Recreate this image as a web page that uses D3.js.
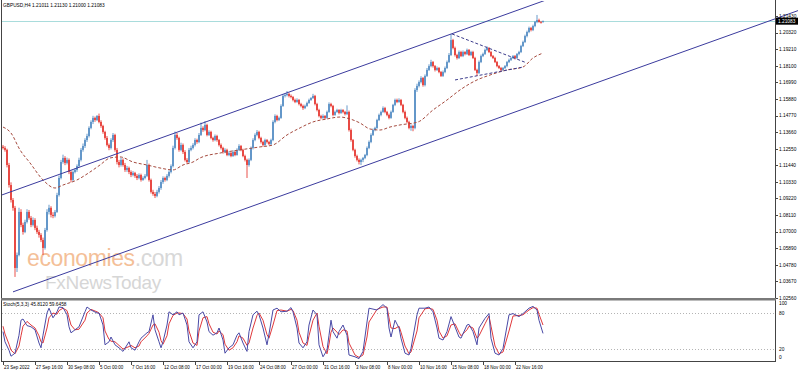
<!DOCTYPE html>
<html>
<head>
<meta charset="utf-8">
<script src="https://cdn.jsdelivr.net/npm/d3@7"></script>
<style>
  body { margin: 0; background: #fff; }
  svg { display: block; }
  text { font-family: "Liberation Sans", Arial, sans-serif; }
</style>
</head>
<body>
<svg id="chart" width="798" height="372"></svg>
<script>
// GBPUSD H4 candles: [open, high, low, close], one per bar from 23 Sep 2022 00:00
const candles = [
  [1.1268,1.1280,1.1250,1.1260],[1.1260,1.1272,1.1235,1.1247],[1.1247,1.1255,1.1130,1.1146],[1.1146,1.1160,1.0995,1.1012],
  [1.1012,1.1030,1.0895,1.0912],[1.0912,1.0925,1.0840,1.0859],[1.0859,1.0872,1.0397,1.0457],[1.0457,1.0560,1.0430,1.0544],
  [1.0544,1.0860,1.0535,1.0832],[1.0832,1.0850,1.0730,1.0745],[1.0745,1.0760,1.0680,1.0698],[1.0698,1.0780,1.0690,1.0765],
  [1.0765,1.0850,1.0755,1.0832],[1.0832,1.0845,1.0780,1.0792],[1.0792,1.0805,1.0730,1.0745],[1.0745,1.0795,1.0735,1.0778],
  [1.0778,1.0790,1.0710,1.0725],[1.0725,1.0740,1.0685,1.0698],[1.0698,1.0712,1.0660,1.0678],[1.0678,1.0690,1.0630,1.0644],
  [1.0644,1.0660,1.0544,1.0591],[1.0591,1.0725,1.0580,1.0711],[1.0711,1.0850,1.0700,1.0832],[1.0832,1.0880,1.0815,1.0859],
  [1.0859,1.0870,1.0795,1.0812],[1.0812,1.0830,1.0790,1.0805],[1.0805,1.0845,1.0795,1.0832],[1.0832,1.0960,1.0825,1.0945],
  [1.0945,1.1075,1.0935,1.1059],[1.1059,1.1180,1.1050,1.1166],[1.1166,1.1215,1.1155,1.1193],[1.1193,1.1205,1.1145,1.1160],
  [1.1160,1.1195,1.1150,1.1180],[1.1180,1.1190,1.1085,1.1099],[1.1099,1.1110,1.1030,1.1046],[1.1046,1.1110,1.1035,1.1099],
  [1.1099,1.1125,1.1090,1.1113],[1.1113,1.1150,1.1100,1.1139],[1.1139,1.1195,1.1130,1.1180],[1.1180,1.1260,1.1170,1.1247],
  [1.1247,1.1290,1.1235,1.1273],[1.1273,1.1325,1.1260,1.1313],[1.1313,1.1355,1.1300,1.1340],[1.1340,1.1405,1.1330,1.1394],
  [1.1394,1.1445,1.1385,1.1434],[1.1434,1.1475,1.1420,1.1461],[1.1461,1.1470,1.1435,1.1447],[1.1447,1.1480,1.1440,1.1474],
  [1.1474,1.1490,1.1425,1.1434],[1.1434,1.1445,1.1395,1.1407],[1.1407,1.1415,1.1355,1.1367],[1.1367,1.1375,1.1315,1.1327],
  [1.1327,1.1340,1.1270,1.1280],[1.1280,1.1290,1.1245,1.1260],[1.1260,1.1325,1.1250,1.1313],[1.1313,1.1360,1.1300,1.1347],
  [1.1347,1.1355,1.1235,1.1247],[1.1247,1.1260,1.1150,1.1166],[1.1166,1.1180,1.1130,1.1146],[1.1146,1.1195,1.1135,1.1180],
  [1.1180,1.1190,1.1135,1.1146],[1.1146,1.1160,1.1100,1.1113],[1.1113,1.1140,1.1100,1.1126],[1.1126,1.1135,1.1085,1.1099],
  [1.1099,1.1110,1.1065,1.1079],[1.1079,1.1105,1.1070,1.1093],[1.1093,1.1100,1.1060,1.1073],[1.1073,1.1085,1.1045,1.1059],
  [1.1059,1.1090,1.1050,1.1079],[1.1079,1.1088,1.1035,1.1046],[1.1046,1.1070,1.1040,1.1059],[1.1059,1.1085,1.1050,1.1073],
  [1.1073,1.1180,1.1065,1.1146],[1.1146,1.1155,1.1035,1.1046],[1.1046,1.1055,1.0955,1.0966],[1.0966,1.0980,1.0940,1.0952],
  [1.0952,1.0965,1.0925,1.0939],[1.0939,1.0980,1.0930,1.0966],[1.0966,1.1005,1.0955,1.0992],[1.0992,1.1045,1.0980,1.1032],
  [1.1032,1.1070,1.1020,1.1059],[1.1059,1.1068,1.1035,1.1046],[1.1046,1.1085,1.1038,1.1073],[1.1073,1.1110,1.1062,1.1099],
  [1.1099,1.1150,1.1090,1.1139],[1.1139,1.1275,1.1130,1.1260],[1.1260,1.1370,1.1250,1.1347],[1.1347,1.1360,1.1315,1.1327],
  [1.1327,1.1335,1.1235,1.1247],[1.1247,1.1295,1.1238,1.1280],[1.1280,1.1290,1.1220,1.1233],[1.1233,1.1245,1.1170,1.1180],
  [1.1180,1.1192,1.1155,1.1166],[1.1166,1.1260,1.1160,1.1247],[1.1247,1.1275,1.1238,1.1260],[1.1260,1.1292,1.1250,1.1280],
  [1.1280,1.1325,1.1270,1.1313],[1.1313,1.1322,1.1288,1.1300],[1.1300,1.1360,1.1292,1.1347],[1.1347,1.1430,1.1340,1.1394],
  [1.1394,1.1405,1.1368,1.1380],[1.1380,1.1440,1.1372,1.1414],[1.1414,1.1422,1.1338,1.1347],[1.1347,1.1378,1.1340,1.1367],
  [1.1367,1.1375,1.1318,1.1327],[1.1327,1.1335,1.1302,1.1313],[1.1313,1.1350,1.1305,1.1340],[1.1340,1.1348,1.1302,1.1313],
  [1.1313,1.1320,1.1270,1.1280],[1.1280,1.1290,1.1250,1.1260],[1.1260,1.1268,1.1222,1.1233],[1.1233,1.1258,1.1225,1.1247],
  [1.1247,1.1255,1.1205,1.1213],[1.1213,1.1238,1.1205,1.1226],[1.1226,1.1235,1.1198,1.1206],[1.1206,1.1245,1.1200,1.1233],
  [1.1233,1.1240,1.1205,1.1213],[1.1213,1.1258,1.1208,1.1247],[1.1247,1.1285,1.1240,1.1273],[1.1273,1.1280,1.1238,1.1247],
  [1.1247,1.1255,1.1198,1.1206],[1.1206,1.1215,1.1170,1.1180],[1.1180,1.1188,1.1059,1.1146],[1.1146,1.1190,1.1135,1.1180],
  [1.1180,1.1270,1.1172,1.1260],[1.1260,1.1325,1.1250,1.1313],[1.1313,1.1358,1.1305,1.1347],[1.1347,1.1380,1.1338,1.1367],
  [1.1367,1.1375,1.1318,1.1327],[1.1327,1.1335,1.1290,1.1300],[1.1300,1.1308,1.1268,1.1280],[1.1280,1.1322,1.1272,1.1313],
  [1.1313,1.1320,1.1290,1.1300],[1.1300,1.1308,1.1278,1.1287],[1.1287,1.1322,1.1280,1.1313],[1.1313,1.1445,1.1305,1.1434],
  [1.1434,1.1485,1.1425,1.1474],[1.1474,1.1482,1.1438,1.1447],[1.1447,1.1470,1.1440,1.1461],[1.1461,1.1552,1.1455,1.1541],
  [1.1541,1.1620,1.1535,1.1608],[1.1608,1.1625,1.1598,1.1614],[1.1614,1.1641,1.1605,1.1621],[1.1621,1.1630,1.1598,1.1608],
  [1.1608,1.1618,1.1592,1.1601],[1.1601,1.1608,1.1572,1.1581],[1.1581,1.1590,1.1560,1.1568],[1.1568,1.1592,1.1562,1.1581],
  [1.1581,1.1588,1.1545,1.1554],[1.1554,1.1562,1.1532,1.1541],[1.1541,1.1550,1.1515,1.1527],[1.1527,1.1550,1.1520,1.1541],
  [1.1541,1.1570,1.1535,1.1561],[1.1561,1.1590,1.1555,1.1581],[1.1581,1.1600,1.1575,1.1594],[1.1594,1.1622,1.1588,1.1608],
  [1.1608,1.1615,1.1545,1.1554],[1.1554,1.1562,1.1505,1.1514],[1.1514,1.1522,1.1465,1.1474],[1.1474,1.1482,1.1452,1.1461],
  [1.1461,1.1485,1.1455,1.1474],[1.1474,1.1480,1.1450,1.1461],[1.1461,1.1510,1.1455,1.1501],[1.1501,1.1565,1.1495,1.1554],
  [1.1554,1.1562,1.1532,1.1541],[1.1541,1.1548,1.1472,1.1481],[1.1481,1.1510,1.1475,1.1501],[1.1501,1.1522,1.1495,1.1514],
  [1.1514,1.1520,1.1485,1.1494],[1.1494,1.1522,1.1488,1.1514],[1.1514,1.1520,1.1492,1.1501],[1.1501,1.1508,1.1478,1.1487],
  [1.1487,1.1545,1.1480,1.1501],[1.1501,1.1510,1.1370,1.1380],[1.1380,1.1390,1.1302,1.1313],[1.1313,1.1320,1.1238,1.1247],
  [1.1247,1.1255,1.1195,1.1206],[1.1206,1.1215,1.1170,1.1180],[1.1180,1.1190,1.1150,1.1166],[1.1166,1.1188,1.1146,1.1180],
  [1.1180,1.1200,1.1165,1.1193],[1.1193,1.1220,1.1185,1.1213],[1.1213,1.1270,1.1205,1.1260],[1.1260,1.1310,1.1252,1.1300],
  [1.1300,1.1358,1.1292,1.1347],[1.1347,1.1390,1.1340,1.1380],[1.1380,1.1402,1.1372,1.1394],[1.1394,1.1455,1.1388,1.1447],
  [1.1447,1.1490,1.1440,1.1481],[1.1481,1.1510,1.1472,1.1501],[1.1501,1.1538,1.1495,1.1527],[1.1527,1.1535,1.1492,1.1501],
  [1.1501,1.1508,1.1472,1.1481],[1.1481,1.1490,1.1452,1.1461],[1.1461,1.1510,1.1455,1.1501],[1.1501,1.1555,1.1495,1.1548],
  [1.1548,1.1590,1.1540,1.1581],[1.1581,1.1590,1.1560,1.1568],[1.1568,1.1592,1.1562,1.1581],[1.1581,1.1588,1.1540,1.1548],
  [1.1548,1.1555,1.1492,1.1501],[1.1501,1.1510,1.1452,1.1461],[1.1461,1.1470,1.1425,1.1434],[1.1434,1.1442,1.1385,1.1394],
  [1.1394,1.1418,1.1375,1.1407],[1.1407,1.1415,1.1372,1.1394],[1.1394,1.1660,1.1385,1.1648],[1.1648,1.1690,1.1635,1.1675],
  [1.1675,1.1712,1.1665,1.1701],[1.1701,1.1740,1.1692,1.1728],[1.1728,1.1735,1.1670,1.1681],[1.1681,1.1752,1.1672,1.1742],
  [1.1742,1.1795,1.1735,1.1782],[1.1782,1.1820,1.1775,1.1808],[1.1808,1.1850,1.1800,1.1835],[1.1835,1.1842,1.1798,1.1808],
  [1.1808,1.1815,1.1772,1.1782],[1.1782,1.1805,1.1775,1.1795],[1.1795,1.1802,1.1760,1.1768],[1.1768,1.1775,1.1735,1.1742],
  [1.1742,1.1778,1.1735,1.1768],[1.1768,1.1805,1.1760,1.1795],[1.1795,1.1845,1.1788,1.1835],[1.1835,1.1895,1.1828,1.1882],
  [1.1882,1.2023,1.1875,1.1982],[1.1982,1.1990,1.1920,1.1929],[1.1929,1.1938,1.1872,1.1882],[1.1882,1.1890,1.1852,1.1862],
  [1.1862,1.1912,1.1855,1.1902],[1.1902,1.1910,1.1868,1.1875],[1.1875,1.1912,1.1868,1.1902],[1.1902,1.1908,1.1880,1.1889],
  [1.1889,1.1925,1.1882,1.1916],[1.1916,1.1922,1.1875,1.1882],[1.1882,1.1910,1.1875,1.1902],[1.1902,1.1910,1.1855,1.1862],
  [1.1862,1.1870,1.1775,1.1782],[1.1782,1.1790,1.1742,1.1762],[1.1762,1.1845,1.1755,1.1835],[1.1835,1.1885,1.1828,1.1875],
  [1.1875,1.1898,1.1868,1.1889],[1.1889,1.1925,1.1882,1.1916],[1.1916,1.1940,1.1908,1.1929],[1.1929,1.1935,1.1895,1.1902],
  [1.1902,1.1910,1.1868,1.1875],[1.1875,1.1882,1.1855,1.1862],[1.1862,1.1870,1.1828,1.1835],[1.1835,1.1842,1.1800,1.1808],
  [1.1808,1.1815,1.1788,1.1795],[1.1795,1.1802,1.1772,1.1782],[1.1782,1.1802,1.1775,1.1795],[1.1795,1.1815,1.1788,1.1808],
  [1.1808,1.1842,1.1800,1.1835],[1.1835,1.1858,1.1828,1.1849],[1.1849,1.1870,1.1842,1.1862],[1.1862,1.1882,1.1855,1.1875],
  [1.1875,1.1882,1.1852,1.1862],[1.1862,1.1895,1.1855,1.1889],[1.1889,1.1910,1.1880,1.1902],[1.1902,1.1950,1.1895,1.1942],
  [1.1942,1.1978,1.1935,1.1969],[1.1969,1.2018,1.1962,1.2009],[1.2009,1.2045,1.2000,1.2036],[1.2036,1.2072,1.2028,1.2063],
  [1.2063,1.2070,1.2040,1.2049],[1.2049,1.2085,1.2042,1.2076],[1.2076,1.2110,1.2068,1.2103],[1.2103,1.2150,1.2095,1.2116],
  [1.2116,1.2125,1.2098,1.2103],[1.2103,1.2110,1.2092,1.2101],[1.2101,1.2113,1.2100,1.2108]
];

// Moving average (dashed), [bar, price]
const maLine = [
  [0,1.1400],[4,1.1360],[8.5,1.1247],[13.5,1.1160],[20,1.1046],[26,1.0992],[30,1.1012],[37,1.1046],
  [43.5,1.1099],[48.5,1.1146],[53.5,1.1193],[58.5,1.1200],[65,1.1166],[72,1.1146],[78.5,1.1126],[85,1.1113],
  [90,1.1146],[95,1.1166],[98.5,1.1193],[108.5,1.1226],[118.5,1.1247],[128.5,1.1267],[135,1.1280],[142,1.1347],
  [148.5,1.1394],[155,1.1434],[162,1.1454],[168.5,1.1467],[173.5,1.1454],[178.5,1.1427],[183.5,1.1387],[188.5,1.1380],
  [193.5,1.1400],[198.5,1.1414],[207.5,1.1434],[215,1.1514],[222,1.1581],[228.5,1.1648],[237,1.1715],[243.5,1.1748],
  [252,1.1782],[260,1.1802],[265,1.1862],[270,1.1895]
];

// Stochastic (5,3,3): main and signal, [bar, value]
const stochMain = [
  [0,49],[1,32],[3,18],[4,8],[6,13],[8,43],[9,68],[10,70],[12,59],[14,57],[16,52],[18,30],[19,22],[20,43],[22,80],[23,88],
  [25,72],[27,82],[28,90],[30,89],[32,77],[33,57],[34,47],[36,52],[38,57],[41,82],[42,90],[44,85],[47,80],[48,80],[50,60],
  [51,27],[53,32],[54,40],[56,27],[58,22],[60,16],[63,32],[64,22],[66,18],[68,32],[69,38],[72,47],[73,49],[75,77],[76,52],
  [78,32],[79,22],[80,32],[82,60],[83,82],[85,77],[87,82],[88,77],[90,80],[92,60],[93,32],[95,22],[97,32],[98,77],[100,82],
  [102,65],[103,49],[105,43],[107,47],[108,55],[110,35],[111,13],[113,22],[115,27],[117,43],[118,47],[120,30],[122,16],
  [123,49],[125,77],[127,83],[128,77],[130,55],[132,27],[133,45],[135,85],[137,88],[139,82],[142,83],[144,89],[145,82],
  [147,55],[148,30],[150,22],[152,32],[153,60],[155,85],[157,77],[158,27],[160,7],[162,18],[163,43],[164,68],[165,49],
  [167,38],[168,49],[170,60],[172,43],[173,10],[176,7],[178,4],[180,16],[182,65],[183,88],[187,85],[190,94],[192,88],
  [193,55],[194,40],[196,68],[198,55],[199,38],[201,13],[203,10],[204,21],[207,77],[208,88],[211,88],[213,90],[215,82],
  [217,55],[218,38],[220,35],[222,49],[224,74],[226,57],[228,40],[229,38],[232,60],[233,61],[235,49],[237,27],[238,55],
  [241,71],[243,79],[244,38],[246,13],[248,10],[250,21],[253,77],[255,79],[258,74],[260,79],[263,88],[265,91],[267,85],
  [268,68],[270,46]
];
const stochSignal = [
  [0,58],[1,45],[3,28],[4,18],[6,12],[8,25],[9,42],[10,58],[12,66],[14,60],[16,55],[18,42],[19,32],[20,30],[22,55],[23,72],
  [25,80],[27,78],[28,84],[30,88],[32,84],[33,72],[34,60],[36,52],[38,53],[41,68],[42,80],[44,86],[47,82],[48,80],[50,72],
  [51,50],[53,36],[54,33],[56,32],[58,26],[60,20],[63,24],[64,26],[66,22],[68,25],[69,32],[72,42],[73,46],[75,60],[76,62],
  [78,48],[79,34],[80,28],[82,42],[83,62],[85,76],[87,80],[88,80],[90,79],[92,70],[93,50],[95,30],[97,26],[98,50],[100,72],
  [102,74],[103,62],[105,48],[107,45],[108,50],[110,44],[111,28],[113,18],[115,22],[117,32],[118,42],[120,38],[122,26],
  [123,30],[125,55],[127,76],[128,80],[130,68],[132,44],[133,38],[135,60],[137,84],[139,85],[142,83],[144,86],[145,84],
  [147,68],[148,48],[150,30],[152,26],[153,42],[155,68],[157,80],[158,58],[160,24],[162,12],[163,28],[164,48],[165,55],
  [167,48],[168,44],[170,52],[172,50],[173,30],[176,10],[178,6],[180,10],[182,40],[183,65],[187,86],[190,90],[192,90],
  [193,72],[194,55],[196,54],[198,58],[199,48],[201,25],[203,12],[204,15],[207,50],[208,72],[211,87],[213,88],[215,86],
  [217,68],[218,50],[220,38],[222,42],[224,60],[226,62],[228,48],[229,42],[232,52],[233,58],[235,55],[237,38],[238,42],
  [241,62],[243,75],[244,58],[246,25],[248,12],[250,15],[253,50],[255,75],[258,76],[260,77],[263,85],[265,89],[267,88],
  [268,78],[270,60]
];

// Drawn objects: channel and triangle, [bar, price] end points
const channelUpper = [[-1.5, 1.0941], [271.5, 1.2250]];
const channelLower = [[5, 1.0297], [397.5, 1.2179]];
const triangleUpper = [[224.5, 1.2023], [261.5, 1.1831]];
const triangleLower = [[226, 1.1715], [259.5, 1.1800]];

const timeLabels = ["23 Sep 2022", "27 Sep 16:00", "30 Sep 08:00", "5 Oct 00:00", "7 Oct 16:00", "12 Oct 08:00",
  "17 Oct 00:00", "19 Oct 16:00", "24 Oct 08:00", "27 Oct 00:00", "31 Oct 16:00", "3 Nov 08:00", "8 Nov 00:00",
  "10 Nov 16:00", "15 Nov 08:00", "18 Nov 00:00", "22 Nov 16:00"];
const barsPerLabel = 16;
const priceTicks = [1.21430, 1.20320, 1.19210, 1.18100, 1.16990, 1.15880, 1.14770, 1.13660, 1.12550,
  1.11440, 1.10330, 1.09220, 1.08110, 1.07000, 1.05890, 1.04780, 1.03670, 1.02560];
const stochTicks = [100, 80, 20, 0];
const stochLevels = [80, 20];
const lastPrice = 1.21083;

const svg = d3.select("#chart");
const right = 775;
const main = { top: 1, bottom: 298 };
const sub = { top: 301, bottom: 361 };

// Scales
const x = d3.scaleLinear().domain([0, 386]).range([3, right]);
const y = d3.scaleLinear().domain([1.0256, 1.2143]).range([298, 16]);
const ys = d3.scaleLinear().domain([0, 100]).range([sub.bottom, sub.top]);

svg.append("defs").append("clipPath").attr("id", "mainClip")
  .append("rect").attr("x", 1).attr("y", main.top).attr("width", right - 1).attr("height", main.bottom - main.top);
svg.append("defs").append("clipPath").attr("id", "subClip")
  .append("rect").attr("x", 1).attr("y", sub.top).attr("width", right - 1).attr("height", sub.bottom - sub.top);

// Watermark
const wm = svg.append("g").attr("font-family", "'Open Sans', 'Liberation Sans', sans-serif");
const wm1 = wm.append("text").attr("x", 27).attr("y", 266).attr("font-size", 23).attr("letter-spacing", -0.4);
wm1.append("tspan").attr("fill", "#f4bf98").text("economies");
wm1.append("tspan").attr("fill", "#d8d8d8").text(".com");
wm.append("text").attr("x", 45).attr("y", 289).attr("font-size", 19).attr("letter-spacing", -0.3)
  .attr("fill", "#d6d6d6").text("FxNewsToday");

// Current price line
svg.append("line")
  .attr("x1", 1).attr("x2", right)
  .attr("y1", Math.round(y(lastPrice)) + 0.5).attr("y2", Math.round(y(lastPrice)) + 0.5)
  .attr("stroke", "#a9dcdc").attr("stroke-width", 1);

// Candles
const cg = svg.append("g").attr("clip-path", "url(#mainClip)");
const bull = "#4281be", bear = "#e3231c";
const candle = cg.selectAll("g.c").data(candles).join("g").attr("class", "c");
candle.append("line")
  .attr("x1", (d, i) => x(i)).attr("x2", (d, i) => x(i))
  .attr("y1", d => y(d[1])).attr("y2", d => y(d[2]))
  .attr("stroke", d => d[3] >= d[0] ? bull : bear).attr("stroke-width", 0.8);
candle.append("rect")
  .attr("x", (d, i) => x(i) - 0.7).attr("width", 1.4)
  .attr("y", d => y(Math.max(d[0], d[3])))
  .attr("height", d => Math.max(0.8, Math.abs(y(d[0]) - y(d[3]))))
  .attr("fill", d => d[3] >= d[0] ? bull : bear);

// Moving average
cg.append("path")
  .datum(maLine)
  .attr("d", d3.line().x(d => x(d[0])).y(d => y(d[1])).curve(d3.curveMonotoneX))
  .attr("fill", "none").attr("stroke", "#a54a3e").attr("stroke-width", 1)
  .attr("stroke-dasharray", "3,2");

// Triangle lines
[triangleUpper, triangleLower].forEach(seg => {
  cg.append("line")
    .attr("x1", x(seg[0][0])).attr("y1", y(seg[0][1]))
    .attr("x2", x(seg[1][0])).attr("y2", y(seg[1][1]))
    .attr("stroke", "#3c3c8c").attr("stroke-width", 1).attr("stroke-dasharray", "3,2");
});

// Channel
svg.append("line").attr("clip-path", "url(#mainClip)")
  .attr("x1", x(channelUpper[0][0])).attr("y1", y(channelUpper[0][1]))
  .attr("x2", x(channelUpper[1][0])).attr("y2", y(channelUpper[1][1]))
  .attr("stroke", "#3b3b9e").attr("stroke-width", 1);
svg.append("line")
  .attr("x1", x(channelLower[0][0])).attr("y1", y(channelLower[0][1]))
  .attr("x2", x(channelLower[1][0])).attr("y2", y(channelLower[1][1]))
  .attr("stroke", "#3b3b9e").attr("stroke-width", 1);

// Header text
svg.append("text").attr("x", 3).attr("y", 7).attr("font-size", 4.8).attr("fill", "#000")
  .text("GBPUSD,H4  1.21011 1.21130 1.21000 1.21083");

// Price axis
const pa = svg.append("g");
pa.selectAll("line").data(priceTicks).join("line")
  .attr("x1", right).attr("x2", right + 3)
  .attr("y1", d => Math.round(y(d)) + 0.5).attr("y2", d => Math.round(y(d)) + 0.5)
  .attr("stroke", "#444").attr("stroke-width", 1);
pa.selectAll("text").data(priceTicks).join("text")
  .attr("x", right + 4).attr("y", d => y(d) + 1.8)
  .attr("font-size", 4.8).attr("fill", "#000")
  .text(d => d.toFixed(5));

// Last price tag
svg.append("rect").attr("x", right + 1).attr("y", y(lastPrice) - 3.5).attr("width", 22).attr("height", 7).attr("fill", "#000");
svg.append("text").attr("x", right + 3).attr("y", y(lastPrice) + 1.8).attr("font-size", 4.8).attr("fill", "#fff")
  .text(lastPrice.toFixed(5));

// Frames
svg.append("line").attr("x1", 1.5).attr("x2", 1.5).attr("y1", 0).attr("y2", sub.bottom).attr("stroke", "#444");
svg.append("line").attr("x1", right + 0.5).attr("x2", right + 0.5).attr("y1", 0).attr("y2", sub.bottom + 0.5).attr("stroke", "#444");
svg.append("rect").attr("x", 1).attr("y", 298).attr("width", right).attr("height", 2.5).attr("fill", "#7a7a7a");
svg.append("line").attr("x1", 1).attr("x2", right + 1).attr("y1", sub.bottom + 0.5).attr("y2", sub.bottom + 0.5).attr("stroke", "#444");

// Stochastic panel
const sg = svg.append("g").attr("clip-path", "url(#subClip)");
sg.selectAll("line.lvl").data(stochLevels).join("line").attr("class", "lvl")
  .attr("x1", 2).attr("x2", right)
  .attr("y1", d => Math.round(ys(d)) + 0.5).attr("y2", d => Math.round(ys(d)) + 0.5)
  .attr("stroke", "#b4b4b4").attr("stroke-dasharray", "1,2");
const sline = d3.line().x(d => x(d[0])).y(d => ys(d[1]));
sg.append("path").datum(stochSignal).attr("d", sline)
  .attr("fill", "none").attr("stroke", "#e0393c").attr("stroke-width", 1);
sg.append("path").datum(stochMain).attr("d", sline)
  .attr("fill", "none").attr("stroke", "#4a4aa6").attr("stroke-width", 1);

svg.append("text").attr("x", 3).attr("y", 306).attr("font-size", 4.8).attr("fill", "#000")
  .text("Stoch(5,3,3) 45.8120 59.6458");

svg.append("g").selectAll("text").data(stochTicks).join("text")
  .attr("x", right + 4).attr("y", d => d === 100 ? 305 : d === 0 ? 359 : ys(d) + 1.8)
  .attr("font-size", 4.8).attr("fill", "#000").text(d => d);

// Time axis
const ta = svg.append("g");
ta.selectAll("line").data(timeLabels).join("line")
  .attr("x1", (d, i) => Math.round(x(i * barsPerLabel)) + 0.5).attr("x2", (d, i) => Math.round(x(i * barsPerLabel)) + 0.5)
  .attr("y1", sub.bottom).attr("y2", sub.bottom + 4)
  .attr("stroke", "#444");
ta.selectAll("text").data(timeLabels).join("text")
  .attr("x", (d, i) => x(i * barsPerLabel) + 1)
  .attr("y", 368.5)
  .attr("font-size", 4.5).attr("fill", "#000")
  .text(d => d);
</script>
</body>
</html>
